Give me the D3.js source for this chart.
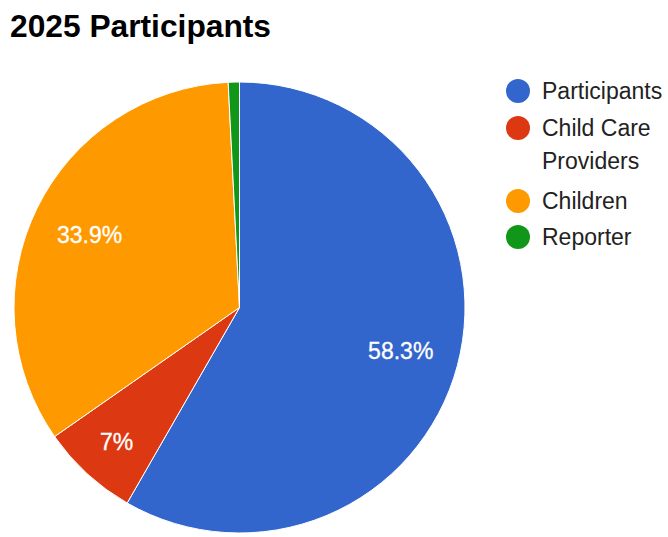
<!DOCTYPE html>
<html>
<head>
<meta charset="utf-8">
<script src="https://cdn.jsdelivr.net/npm/d3@7"></script>
<style>
  html, body { margin: 0; padding: 0; background: #fff; }
  svg { display: block; }
</style>
</head>
<body>
<svg id="chart" width="668" height="537"></svg>
<script>
// Share of 2025 participants by group (percent)
const categories = ["Participants", "Child Care Providers", "Children", "Reporter"];
const values = [58.3, 7, 33.9, 0.8];
const sliceLabels = ["58.3%", "7%", "33.9%", ""];
const legendLines = [["Participants"], ["Child Care", "Providers"], ["Children"], ["Reporter"]];
const colors = ["#3366cc", "#dc3912", "#ff9900", "#109618"];

const svg = d3.select("#chart");

// Title
svg.append("text")
  .attr("x", 10)
  .attr("y", 37)
  .attr("font-family", "Liberation Sans, Arial, sans-serif")
  .attr("font-weight", "bold")
  .attr("font-size", 31)
  .attr("textLength", 261)
  .attr("lengthAdjust", "spacingAndGlyphs")
  .attr("fill", "#000")
  .text("2025 Participants");

// Pie
const cx = 239.5, cy = 307.5, r = 225.5;
const color = d3.scaleOrdinal().domain(categories).range(colors);

const data = categories.map((c, i) => ({ name: c, value: values[i], label: sliceLabels[i] }));
const pie = d3.pie().value(d => d.value).sort(null);
const arcs = pie(data);
const arc = d3.arc().innerRadius(0).outerRadius(r);

const g = svg.append("g").attr("transform", `translate(${cx},${cy})`);

g.selectAll("path.slice")
  .data(arcs)
  .join("path")
  .attr("class", "slice")
  .attr("d", arc)
  .attr("fill", d => color(d.data.name))
  .attr("stroke", "#fff")
  .attr("stroke-width", 1);

const labels = g.selectAll("text.pct")
  .data(arcs.filter(d => d.data.label))
  .join("text")
  .attr("class", "pct")
  .attr("text-anchor", "middle")
  .attr("dy", "0.38em")
  .attr("font-family", "Liberation Sans, Arial, sans-serif")
  .attr("font-size", 23)
  .attr("fill", "#fff")
  .attr("stroke", "#fff")
  .attr("stroke-width", 0.3)
  .text(d => d.data.label);

// Place each label on its slice's bisector, pushing it outward until the
// text box keeps a minimum clearance from both radial edges of the slice.
const pad = 21, boxH = 17;
labels.each(function (d) {
  const w = this.getComputedTextLength();
  const mid = (d.startAngle + d.endAngle) / 2;
  const edges = [d.startAngle, d.endAngle].map(a => [Math.sin(a), -Math.cos(a)]);
  let dist = r * 0.74;
  for (; dist < r * 0.95; dist += 1) {
    const px = Math.sin(mid) * dist, py = -Math.cos(mid) * dist;
    const corners = [[-w / 2, -boxH / 2], [w / 2, -boxH / 2], [-w / 2, boxH / 2], [w / 2, boxH / 2]]
      .map(([ox, oy]) => [px + ox, py + oy]);
    let clear = Infinity;
    edges.forEach(([ux, uy]) => corners.forEach(([x, y]) => {
      clear = Math.min(clear, Math.abs(x * uy - y * ux));
    }));
    if (clear >= pad) break;
  }
  d3.select(this).attr("transform",
    `translate(${Math.sin(mid) * dist},${-Math.cos(mid) * dist})`);
});

// Legend
const legendX = 518;
const rowTops = [91, 128, 201, 237];
const lineGap = 33;
const legend = svg.append("g");
categories.forEach((c, i) => {
  const row = legend.append("g");
  row.append("circle")
    .attr("cx", legendX)
    .attr("cy", rowTops[i])
    .attr("r", 12)
    .attr("fill", color(c));
  const t = row.append("text")
    .attr("font-family", "Liberation Sans, Arial, sans-serif")
    .attr("font-size", 23)
    .attr("fill", "#222");
  legendLines[i].forEach((line, j) => {
    t.append("tspan")
      .attr("x", legendX + 24)
      .attr("y", rowTops[i] + 8 + j * lineGap)
      .text(line);
  });
});
</script>
</body>
</html>
